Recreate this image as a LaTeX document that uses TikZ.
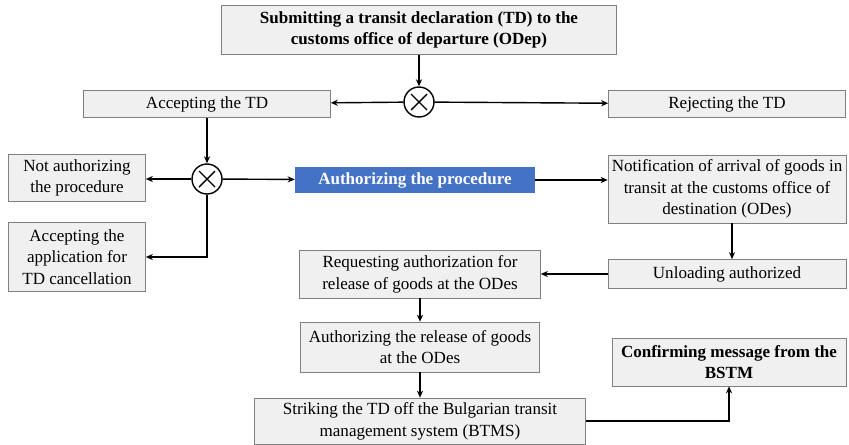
\documentclass[tikz,border=0pt]{standalone}
\usepackage{fontspec}
\setmainfont{Liberation Serif}
\usepackage{tikz}
\usetikzlibrary{positioning,arrows.meta}
\tikzstyle{chart} = [x = 0.02cm, y = -0.02cm, every node/.style={font=\fontsize{9.7}{12.4}\selectfont}]
\definecolor{boxFill}{RGB}{240,240,240}
\definecolor{boxLine}{RGB}{128,128,128}
\definecolor{authBlue}{RGB}{68,114,196}
\tikzstyle{stepBox} = [draw=boxLine, fill=boxFill, align=center, inner sep=1pt]
\tikzstyle{authBox} = [fill=authBlue, text=white, font=\fontsize{9.7}{12.4}\selectfont\bfseries, inner sep=1pt]
\tikzstyle{flowLine} = [thick, -{Stealth[length=4pt,width=3.5pt]}]
\tikzstyle{gateStyle} = [draw, thick, circle, minimum size=0.6cm, inner sep=0pt,
  path picture={\draw[thick] ([shift={(-.16cm,-.16cm)}]path picture bounding box.center) -- ([shift={(.16cm,.16cm)}]path picture bounding box.center);
    \draw[thick] ([shift={(-.16cm,.16cm)}]path picture bounding box.center) -- ([shift={(.16cm,-.16cm)}]path picture bounding box.center);}]
\newcommand{\stepNode}[6]{\node [stepBox, minimum width=#4cm, minimum height=#5cm] (#1) at (#2,#3) {#6};}
\newcommand{\gateNode}[3]{\node [gateStyle] (#1) at (#2,#3) {};}

\begin{document}
\begin{tikzpicture}[chart]
\useasboundingbox (0,0) rectangle (849,444);
\stepNode{submit}{419}{30}{7.9}{0.98}{\textbf{Submitting a transit declaration (TD) to the}\\\textbf{customs office of departure (ODep)}}
\gateNode{gateA}{419}{102}
\stepNode{accTD}{207}{104}{4.94}{0.54}{Accepting the TD}
\stepNode{rejTD}{727}{104}{4.74}{0.54}{Rejecting the TD}
\gateNode{gateB}{207}{179}
\stepNode{notAuth}{77}{178}{2.74}{0.94}{Not authorizing\\the procedure}
\stepNode{accApp}{77}{257}{2.74}{1.38}{Accepting the\\application for\\TD cancellation}
\node [authBox, minimum width=4.8cm, minimum height=0.52cm] (auth) at (415,180) {Authorizing the procedure};
\stepNode{notif}{727}{189}{4.76}{1.36}{Notification of arrival of goods in\\transit at the customs office of\\destination (ODes)}
\stepNode{unload}{727}{274}{4.76}{0.58}{Unloading authorized}
\stepNode{request}{420}{274}{4.82}{0.96}{Requesting authorization for\\release of goods at the ODes}
\stepNode{release}{420}{347}{4.78}{1.0}{Authorizing the release of goods\\at the ODes}
\stepNode{strike}{420}{421}{6.62}{0.92}{Striking the TD off the Bulgarian transit\\management system (BTMS)}
\stepNode{confirm}{729}{362}{4.68}{0.96}{\textbf{Confirming message from the}\\\textbf{BSTM}}

% connectors
\draw [flowLine] (submit) -- (gateA);
\draw [flowLine] (gateA) -- (accTD);
\draw [flowLine] (gateA) -- (rejTD);
\draw [flowLine] (accTD) -- (gateB);
\draw [flowLine] (gateB) -- (notAuth.east |- gateB);
\draw [flowLine] (gateB.south) |- (accApp.east);
\draw [flowLine] (gateB) -- (auth);
\draw [flowLine] (auth.east) -- (auth.east -| notif.west);
\draw [flowLine] ([xshift=0.1cm]notif.south) -- ([xshift=0.1cm]unload.north);
\draw [flowLine] (unload) -- (request);
\draw [flowLine] (request) -- (release);
\draw [flowLine] (release) -- (strike);
\draw [flowLine] (strike.east) -| (confirm.south);
\end{tikzpicture}
\end{document}
